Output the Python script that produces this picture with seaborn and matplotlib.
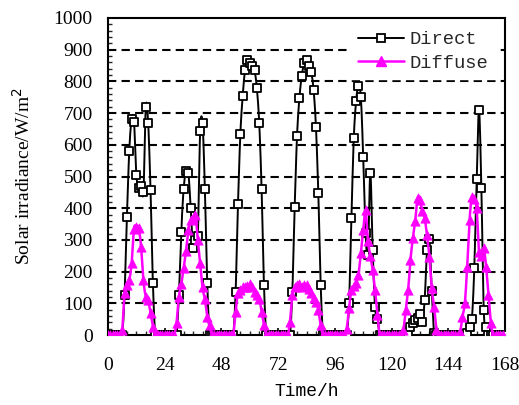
import numpy as np
import pandas as pd
import matplotlib
matplotlib.use("Agg")
import matplotlib.pyplot as plt
from matplotlib.lines import Line2D
from matplotlib.ticker import MultipleLocator
import seaborn as sns

# ---- data (hourly, W/m2) ----
direct_d1 = [0, 0, 0, 0, 0, 0, 0, 126, 373, 581, 681, 673, 505, 465, 470, 452, 720, 668, 457, 163, 0, 0, 0, 0]
direct_d2 = [0, 0, 0, 0, 0, 0, 126, 326, 460, 518, 512, 400, 273, 300, 312, 644, 668, 460, 163, 0, 0, 0, 0, 0]
direct_d3 = [0, 0, 0, 0, 0, 0, 135, 412, 633, 755, 836, 867, 857, 850, 836, 778, 668, 460, 158, 0, 0, 0, 0, 0]
direct_d4 = [0, 0, 0, 0, 0, 0, 135, 405, 629, 748, 818, 857, 867, 850, 830, 773, 657, 447, 158, 0, 0, 0, 0, 0]
direct_d5 = [0, 0, 0, 0, 0, 0, 100, 368, 620, 739, 785, 750, 562, 321, 252, 512, 268, 87, 52, 0, 0, 0, 0, 0]
direct_d6 = [0, 0, 0, 0, 0, 0, 0, 5, 26, 38, 47, 55, 66, 42, 110, 268, 302, 140, 5, 0, 0, 0, 0, 0]
direct_d7 = [0, 0, 0, 0, 0, 0, 0, 0, 7, 26, 52, 210, 491, 710, 463, 79, 26, 0, 0, 0, 0, 0, 0, 0]

diffuse_d1 = [0, 0, 0, 0, 0, 0, 15, 132, 158, 173, 226, 335, 342, 338, 278, 173, 120, 110, 68, 26, 0, 0, 0, 0]
diffuse_d2 = [0, 0, 0, 0, 0, 39, 121, 160, 210, 265, 330, 363, 370, 379, 300, 228, 150, 113, 58, 30, 0, 0, 0, 0]
diffuse_d3 = [0, 0, 0, 0, 0, 0, 74, 132, 142, 150, 152, 155, 160, 150, 137, 125, 115, 74, 32, 0, 0, 0, 0, 0]
diffuse_d4 = [0, 0, 0, 0, 0, 42, 126, 150, 158, 160, 152, 158, 158, 145, 131, 116, 105, 80, 30, 0, 0, 0, 0, 0]
diffuse_d5 = [0, 0, 0, 0, 0, 20, 84, 142, 155, 165, 190, 260, 330, 394, 297, 250, 205, 142, 63, 0, 0, 0, 0, 0]
diffuse_d6 = [0, 0, 0, 0, 0, 16, 79, 142, 237, 305, 360, 431, 426, 390, 368, 315, 247, 147, 89, 16, 0, 0, 0, 0]
diffuse_d7 = [0, 0, 0, 0, 0, 10, 58, 100, 216, 363, 436, 430, 400, 263, 250, 273, 216, 126, 37, 0, 0, 0, 0, 0]

x_ticks = [0, 24, 48, 72, 96, 120, 144, 168]
y_ticks = [0, 100, 200, 300, 400, 500, 600, 700, 800, 900, 1000]
series_names = ["Direct", "Diffuse"]

direct = sum([direct_d1, direct_d2, direct_d3, direct_d4, direct_d5, direct_d6, direct_d7], [])
diffuse = sum([diffuse_d1, diffuse_d2, diffuse_d3, diffuse_d4, diffuse_d5, diffuse_d6, diffuse_d7], [])
hours = np.arange(len(direct))


def smooth(x, y, n=12):
    """Catmull-Rom spline (Excel-style smoothed line) through the data points."""
    x = np.asarray(x, float)
    y = np.asarray(y, float)
    px = np.concatenate([[x[0]], x, [x[-1]]])
    py = np.concatenate([[y[0]], y, [y[-1]]])
    xs, ys = [], []
    t = np.linspace(0, 1, n, endpoint=False)
    for i in range(1, len(px) - 2):
        p0x, p1x, p2x, p3x = px[i - 1], px[i], px[i + 1], px[i + 2]
        p0y, p1y, p2y, p3y = py[i - 1], py[i], py[i + 1], py[i + 2]
        for a, b, c, d, out in ((p0x, p1x, p2x, p3x, xs), (p0y, p1y, p2y, p3y, ys)):
            out.extend(0.5 * ((2 * b) + (-a + c) * t + (2 * a - 5 * b + 4 * c - d) * t ** 2
                              + (-a + 3 * b - 3 * c + d) * t ** 3))
    xs.append(x[-1])
    ys.append(y[-1])
    return np.array(xs), np.array(ys)


sns.set_theme(style="white")
plt.rcParams["font.family"] = ["Liberation Serif", "DejaVu Serif"]
mono = ["Liberation Mono", "DejaVu Sans Mono"]

fig = plt.figure(figsize=(5.19, 4.05), dpi=100)
ax = fig.add_axes([108 / 519, 1 - 335 / 405, (505 - 108) / 519, (335 - 18) / 405])

black = "#000000"
magenta = "#FF00FF"

# Direct
sx, sy = smooth(hours, direct)
sns.lineplot(x=sx, y=sy, ax=ax, color=black, lw=1.4, sort=False, zorder=3, legend=False)
sns.scatterplot(x=hours, y=direct, ax=ax, marker="s", s=40, facecolor="white",
                edgecolor=black, linewidth=1.3, zorder=4, legend=False)
# Diffuse
sx, sy = smooth(hours, diffuse)
sns.lineplot(x=sx, y=sy, ax=ax, color=magenta, lw=1.8, sort=False, zorder=5, legend=False)
sns.scatterplot(x=hours, y=diffuse, ax=ax, marker="^", s=45, color=magenta,
                edgecolor=magenta, linewidth=0.5, zorder=6, legend=False)

ax.set_xlim(0, 168)
ax.set_ylim(0, 1000)
ax.set_xticks(x_ticks)
ax.set_yticks(y_ticks)
ax.xaxis.set_minor_locator(MultipleLocator(4))
ax.yaxis.set_minor_locator(MultipleLocator(20))
ax.tick_params(axis="y", which="major", pad=11)
ax.tick_params(axis="x", which="major", pad=16)
ax.tick_params(axis="both", which="major", direction="in", length=5, width=1.2,
               labelsize=14, colors=black, left=True, bottom=True)
ax.tick_params(axis="both", which="minor", direction="in", length=3, width=1.0,
               left=True, bottom=True)
for yv in y_ticks[1:-1]:
    ax.axhline(yv, color=black, lw=1.5, ls=(0, (4, 2.5)), zorder=1)
for sp in ax.spines.values():
    sp.set_color(black)
    sp.set_linewidth(1.5)

ax.set_ylabel("Solar irradiance/W/m$^2$", fontsize=14, color=black, labelpad=14)
ax.set_xlabel("Time/h", fontsize=13, color=black, family=mono, labelpad=6)

handles = [
    Line2D([], [], color=black, lw=1.4, marker="s", markersize=6, markerfacecolor="white",
           markeredgecolor=black, markeredgewidth=1.3),
    Line2D([], [], color=magenta, lw=1.8, marker="^", markersize=7, markerfacecolor=magenta,
           markeredgecolor=magenta),
]
leg = ax.legend(handles, series_names, loc="upper right", bbox_to_anchor=(0.99, 1.0),
                frameon=True, fancybox=False, framealpha=1.0, edgecolor="white",
                handlelength=2.5, handletextpad=0.25, borderaxespad=0.3, labelspacing=0.35,
                prop={"family": mono, "size": 13.5})
leg.set_zorder(10)

fig.savefig("out.png", dpi=100, facecolor="white")
